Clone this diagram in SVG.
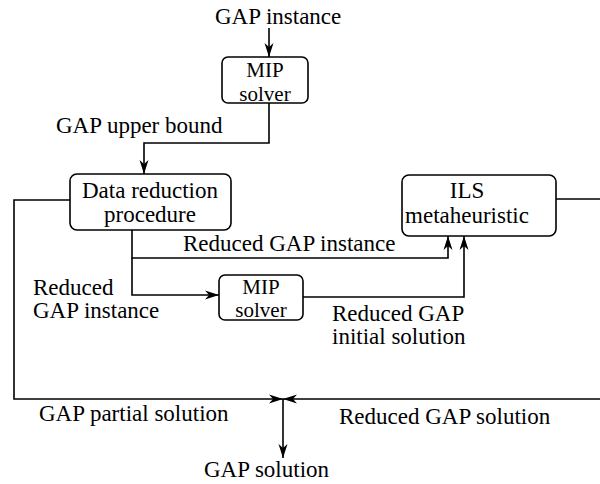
<svg xmlns="http://www.w3.org/2000/svg" width="600" height="484" viewBox="0 0 600 484">
  <style>
    text { font-family: "Liberation Serif", "Times New Roman", serif; font-size: 23px; fill: #000; }
    .mid { text-anchor: middle; }
    .small { font-size: 21px; }
    .box { fill: #fff; stroke: #000; stroke-width: 1.6; }
    .wire { fill: none; stroke: #000; stroke-width: 1.6; }
  </style>
  <defs>
    <marker id="arr" viewBox="-15 -5 16 10" refX="0" refY="0" markerWidth="16" markerHeight="10" markerUnits="userSpaceOnUse" orient="auto">
      <path d="M0,0 L-14,-4.5 L-10,0 L-14,4.5 Z" fill="#000"/>
    </marker>
  </defs>

  <!-- connectors -->
  <g id="connectors">
    <path class="wire" d="M269,28 V57" marker-end="url(#arr)"/>
    <path class="wire" d="M269,103 V143 H144 V174" marker-end="url(#arr)"/>
    <path class="wire" d="M70,200 H14 V399 H283" marker-end="url(#arr)"/>
    <path class="wire" d="M556,199 H602 V399 H283" marker-end="url(#arr)"/>
    <path class="wire" d="M283,399 V458" marker-end="url(#arr)"/>
    <path class="wire" d="M132,230 V258 H448 V236" marker-end="url(#arr)"/>
    <path class="wire" d="M132,258 V295 H219" marker-end="url(#arr)"/>
    <path class="wire" d="M303,297 H464 V236" marker-end="url(#arr)"/>
  </g>

  <!-- nodes -->
  <g id="mip1">
    <rect class="box" x="222" y="57" width="86" height="46" rx="6"/>
    <text class="mid small" x="265" y="77">MIP</text>
    <text class="mid small" x="265" y="100.5">solver</text>
  </g>
  <g id="reduction">
    <rect class="box" x="70" y="174" width="161" height="56" rx="7"/>
    <text class="mid" x="150" y="198">Data reduction</text>
    <text class="mid" x="150" y="222">procedure</text>
  </g>
  <g id="ils">
    <rect class="box" x="402" y="175" width="154" height="61" rx="7"/>
    <text class="mid" x="467" y="198">ILS</text>
    <text class="mid" x="467" y="223">metaheuristic</text>
  </g>
  <g id="mip2">
    <rect class="box" x="219" y="275" width="84" height="45" rx="6"/>
    <text class="mid small" x="261" y="293.5">MIP</text>
    <text class="mid small" x="261" y="317">solver</text>
  </g>

  <!-- labels -->
  <g id="labels">
    <text x="215" y="24">GAP instance</text>
    <text x="56" y="133">GAP upper bound</text>
    <text x="183" y="251">Reduced GAP instance</text>
    <text x="33" y="295">Reduced</text>
    <text x="33" y="318">GAP instance</text>
    <text x="332" y="321">Reduced GAP</text>
    <text x="332" y="344">initial solution</text>
    <text x="39" y="421">GAP partial solution</text>
    <text x="339" y="424">Reduced GAP solution</text>
    <text x="204" y="477">GAP solution</text>
  </g>
</svg>
